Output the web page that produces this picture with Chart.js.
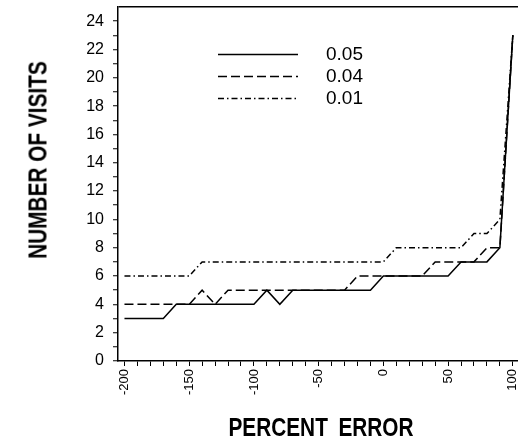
<!DOCTYPE html>
<html>
<head>
<meta charset="utf-8">
<script src="https://cdn.jsdelivr.net/npm/chart.js@4.4.1/dist/chart.umd.min.js"></script>
<style>
  body { margin: 0; background: #fff; }
  #wrap { position: relative; width: 518px; height: 441px; }
  .axisTitle {
    position: absolute;
    font-family: "Liberation Sans", Arial, sans-serif;
    font-weight: bold;
    font-size: 26px;
    color: #000;
    white-space: nowrap;
  }
  #yTitle { left: 38px; top: 160px; transform: translate(-50%, -50%) rotate(-90deg) scaleX(0.8); }
  #xTitle { left: 321px; top: 427px; word-spacing: 6px; transform: translate(-50%, -50%) scaleX(0.8); }
</style>
</head>
<body>
<div id="wrap">
  <canvas id="visitsCanvas"></canvas>
  <div class="axisTitle" id="yTitle">NUMBER OF VISITS</div>
  <div class="axisTitle" id="xTitle">PERCENT ERROR</div>
</div>
<script>
// percent error (x)
const percentError = [-200, -190, -180, -170, -160, -150, -140, -130, -120, -110, -100, -90, -80, -70, -60, -50,
    -40, -30, -20, -10, 0, 10, 20, 30, 40, 50, 60, 70, 80, 90, 100];

// number of visits per series
const visits005 = [3, 3, 3, 3, 4, 4, 4, 4, 4, 4, 4, 5, 4, 5, 5, 5, 5, 5, 5, 5, 6, 6, 6, 6, 6, 6, 7, 7, 7, 8, 23];
const visits004 = [4, 4, 4, 4, 4, 4, 5, 4, 5, 5, 5, 5, 5, 5, 5, 5, 5, 5, 6, 6, 6, 6, 6, 6, 7, 7, 7, 7, 8, 8, 23];
const visits001 = [6, 6, 6, 6, 6, 6, 7, 7, 7, 7, 7, 7, 7, 7, 7, 7, 7, 7, 7, 7, 7, 8, 8, 8, 8, 8, 8, 9, 9, 10, 23];

const seriesLabels = ['0.05', '0.04', '0.01'];

// tick labels
const xLabelValues = [-200, -150, -100, -50, 0, 50, 100];
const yTickValues = [0, 1, 2, 3, 4, 5, 6, 7, 8, 9, 10, 11, 12, 13, 14, 15, 16, 17, 18, 19, 20, 21, 22, 23, 24, 25];
const yLabelValues = [0, 2, 4, 6, 8, 10, 12, 14, 16, 18, 20, 22, 24];

Chart.defaults.font.family = '"Liberation Sans", Arial, sans-serif';
Chart.defaults.color = '#000';

function toPoints(values) {
    return percentError.map(function(x, i) { return { x: x, y: values[i] }; });
}

// put the legend inside the plot, upper middle
const legendPlacer = {
    id: 'legendPlacer',
    afterLayout(chart) {
        let lg = chart.legend;
        let ca = chart.chartArea;
        lg.left = ca.left + 97;
        lg.top = ca.top + 35;
        lg.right = ca.left + 245;
        lg.bottom = lg.top + 100;
    }
};

let ctx = document.getElementById('visitsCanvas').getContext('2d');
let visitsChart = new Chart(ctx, {
    type: 'line',
    data: {
        datasets: [
            { label: seriesLabels[0], data: toPoints(visits005), borderDash: [] },
            { label: seriesLabels[1], data: toPoints(visits004), borderDash: [9, 4] },
            { label: seriesLabels[2], data: toPoints(visits001), borderDash: [6, 3, 1.5, 3] }
        ].map(function(ds) {
            return Object.assign(ds, {
                borderColor: '#000',
                backgroundColor: 'rgba(0,0,0,0)',
                borderWidth: 1.5,
                pointRadius: 0,
                tension: 0,
                fill: false
            });
        })
    },
    options: {
        responsive: true,
        maintainAspectRatio: false,
        animation: false,
        layout: { padding: { top: 7, right: 0, bottom: 0, left: 0 } },
        plugins: {
            tooltip: { enabled: false },
            legend: {
                position: 'chartArea',
                align: 'start',
                labels: {
                    usePointStyle: true,
                    pointStyle: 'line',
                    pointStyleWidth: 80,
                    padding: 3,
                    textAlign: 'right',
                    font: { size: 19 },
                    color: '#000',
                    // point style drops the dash pattern, take it from the dataset
                    generateLabels: function(chart) {
                        let items = Chart.defaults.plugins.legend.labels.generateLabels(chart);
                        items.forEach(function(item) {
                            let ds = chart.data.datasets[item.datasetIndex];
                            item.lineDash = ds.borderDash;
                            item.lineWidth = ds.borderWidth;
                            item.strokeStyle = ds.borderColor;
                        });
                        return items;
                    }
                }
            }
        },
        scales: {
            x: {
                type: 'linear',
                min: -205,
                max: 104,
                afterBuildTicks: function(axis) {
                    axis.ticks = percentError.map(function(v) { return { value: v }; });
                },
                afterFit: function(scale) {
                    scale.height = 80;
                    scale.paddingLeft = 0;
                    scale.paddingRight = 0;
                },
                ticks: {
                    autoSkip: false,
                    minRotation: 90,
                    maxRotation: 90,
                    padding: 3,
                    font: { size: 13 },
                    callback: function(value) {
                        return xLabelValues.includes(value) ? String(value) : '';
                    }
                },
                grid: { drawOnChartArea: false, tickLength: 5, tickColor: '#000', tickWidth: 1 },
                border: { display: true, color: '#000', width: 1.5 }
            },
            y: {
                min: 0,
                max: 25,
                afterBuildTicks: function(axis) {
                    axis.ticks = yTickValues.map(function(v) { return { value: v }; });
                },
                afterFit: function(scale) {
                    scale.width = 118;
                    scale.paddingTop = 0;
                    scale.paddingBottom = 0;
                },
                ticks: {
                    autoSkip: false,
                    padding: 9,
                    font: { size: 16 },
                    callback: function(value) {
                        return yLabelValues.includes(value) ? String(value) : '';
                    }
                },
                grid: {
                    tickLength: 5,
                    lineWidth: 1.5,
                    tickWidth: 1,
                    // only the top frame line is drawn across the plot
                    color: function(c) { return c.tick && c.tick.value === 25 ? '#000' : 'rgba(0,0,0,0)'; },
                    tickColor: function(c) { return c.tick && c.tick.value === 25 ? 'rgba(0,0,0,0)' : '#000'; }
                },
                border: { display: true, color: '#000', width: 1.5 }
            }
        }
    },
    plugins: [legendPlacer]
});
</script>
</body>
</html>
